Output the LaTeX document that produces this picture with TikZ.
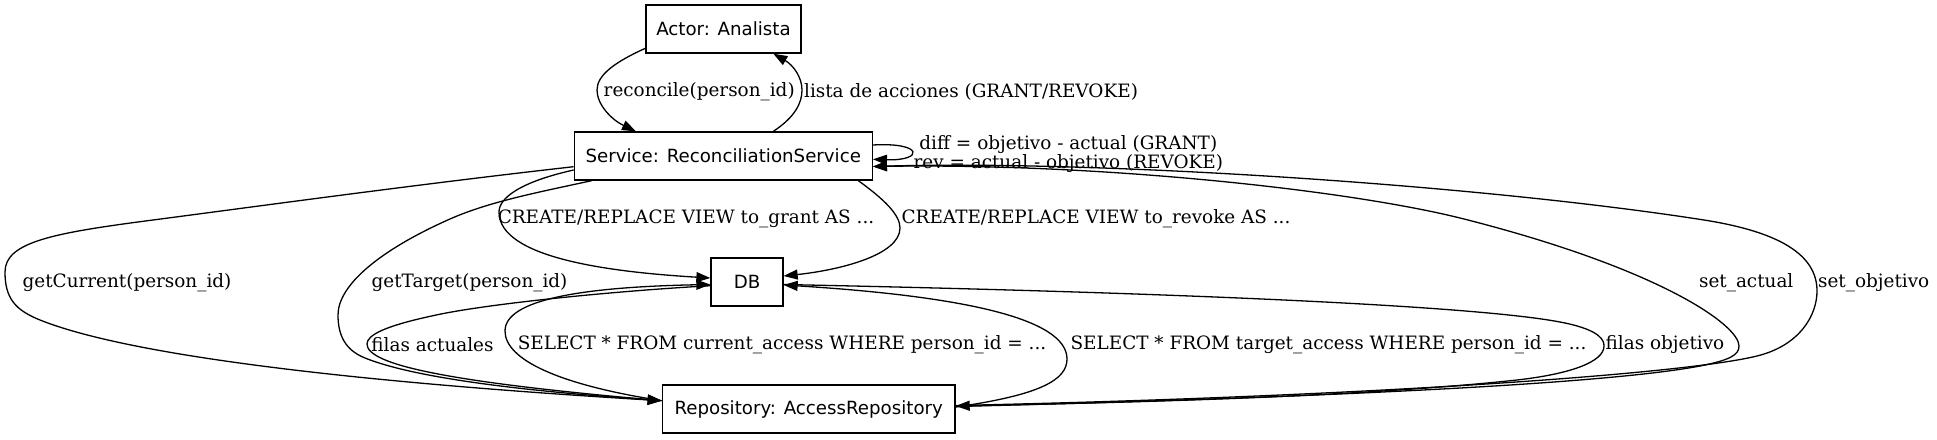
\documentclass[tikz,border=0pt]{standalone}
\usepackage{fontspec}
\setmainfont{DejaVu Serif}
\newfontfamily\nodefont{DejaVu Sans}
\newfontfamily\edgefont{DejaVu Serif}
\usetikzlibrary{arrows.meta}
\begin{document}
\begin{tikzpicture}[x=1pt,y=-1pt,
  box/.style={draw, line width=1.3pt, minimum height=48pt, inner sep=0pt,
    font=\nodefont\fontsize{18.2}{22}\selectfont},
  lbl/.style={inner sep=0pt, font=\edgefont\fontsize{18.4}{22}\selectfont},
  conn/.style={line width=1.3pt, -{Triangle[length=14pt,width=10pt]}},
]
\useasboundingbox (0,0) rectangle (1937,439);
\fill[white] (0,0) rectangle (1937,439);

% nodes
\node[box, minimum width=155pt] (actor) at (723.5,29) {Actor: Analista};
\node[box, minimum width=298pt] (svc) at (723.3,156) {Service: ReconciliationService};
\node[box, minimum width=72pt] (db) at (747,282) {DB};
\node[box, minimum width=292.7pt] (repo) at (808.7,409) {Repository: AccessRepository};

% Actor -> Service (reconcile)
\draw[conn] ([yshift=-19.3pt]actor.west) .. controls (615,62) and (597,75) .. (597,90)
  .. controls (597,105) and (612,120) .. ([xshift=-87.3pt]svc.north);
% Service -> Actor (lista de acciones)
\draw[conn] ([xshift=50pt]svc.north) .. controls (795,117) and (802,103) .. (802,90)
  .. controls (802,77) and (793,65) .. ([xshift=49.8pt]actor.south);
% self loop
\draw[conn] ([yshift=11pt]svc.east) .. controls (924,142) and (924,161) .. ([yshift=-3.3pt]svc.east);

% Service -> DB (to_grant)
\draw[conn] ([yshift=-14pt]svc.west) .. controls (520,182) and (499,198) .. (499,212)
  .. controls (499,258) and (610,272) .. ([yshift=4pt]db.west);
% Service -> DB (to_revoke)
\draw[conn] ([xshift=135pt]svc.south) .. controls (885,200) and (900,215) .. (900,228)
  .. controls (900,255) and (840,270) .. ([yshift=6pt]db.east);

% Service -> Repository (getCurrent)
\draw[conn] ([yshift=-10.7pt]svc.west) .. controls (420,184) and (260,206) .. (153,220)
  .. controls (53,233) and (5,242) .. (5,272)
  .. controls (5,298) and (15,310) .. (40,320)
  .. controls (150,364) and (450,388) .. ([yshift=8.3pt]repo.west);
% Service -> Repository (getTarget)
\draw[conn] ([xshift=-131.6pt]svc.south) .. controls (540,192) and (490,201.3) .. (450,219)
  .. controls (380,250) and (338,285) .. (338,315)
  .. controls (338,335) and (345,350) .. (365,358)
  .. controls (420,380) and (540,392) .. ([yshift=8.3pt]repo.west);

% DB -> Repository (filas actuales)
\draw[conn] ([yshift=-3.7pt]db.west) .. controls (600,292) and (480,305) .. (433,315.7)
  .. controls (385,326) and (367,335) .. (367,344)
  .. controls (367,365) and (450,382) .. ([yshift=8.3pt]repo.west);
% Repository -> DB (SELECT current)
\draw[conn] ([yshift=8.3pt]repo.west) .. controls (560,385) and (505,360) .. (505,331)
  .. controls (505,300) and (580,287) .. ([yshift=-2.5pt]db.west);

% Repository -> DB (SELECT target)
\draw[conn] ([yshift=2pt]repo.east) .. controls (1040,395) and (1067,380) .. (1067,359)
  .. controls (1067,318) and (960,296) .. ([yshift=-3pt]db.east);
% DB -> Repository (filas objetivo)
\draw[conn] ([yshift=-2.5pt]db.east) .. controls (1150,292) and (1480,305) .. (1565,323)
  .. controls (1600,330.4) and (1604,340) .. (1604,346)
  .. controls (1604,362) and (1570,374) .. (1517,380)
  .. controls (1350,398) and (1100,403) .. ([yshift=3pt]repo.east);

% Repository -> Service (set_actual)
\draw[conn] ([yshift=2.5pt]repo.east) .. controls (1300,398) and (1600,385) .. (1700,366)
  .. controls (1730,360) and (1739,355) .. (1739,346)
  .. controls (1739,325) and (1660,268.8) .. (1464,219)
  .. controls (1350,190) and (1100,163) .. ([yshift=-10.5pt]svc.east);
% Repository -> Service (set_objetivo)
\draw[conn] ([yshift=3.5pt]repo.east) .. controls (1350,397) and (1680,375) .. (1757,356)
  .. controls (1800,345.4) and (1817,315) .. (1817,291)
  .. controls (1817,255) and (1780,232) .. (1704,220)
  .. controls (1480,185) and (1100,160) .. ([yshift=-10.5pt]svc.east);

% labels
\node[lbl] (l1) at (699.2,91.7) {reconcile(person\_id)};
\node[lbl] (l2) at (971,91.7) {lista de acciones (GRANT/REVOKE)};
\node[lbl] (l3) at (1068.3,145) {diff = objetivo - actual (GRANT)};
\node[lbl] (l4) at (1068.3,163.3) {rev = actual - objetivo (REVOKE)};
\node[lbl] (l5) at (686,219) {CREATE/REPLACE VIEW to\_grant AS ...};
\node[lbl] (l6) at (1096,219) {CREATE/REPLACE VIEW to\_revoke AS ...};
\node[lbl] (l7) at (127,282.3) {getCurrent(person\_id)};
\node[lbl] (l8) at (469.5,282.3) {getTarget(person\_id)};
\node[lbl] (l9) at (1746.2,282.3) {set\_actual};
\node[lbl] (l10) at (1873.7,282.3) {set\_objetivo};
\node[lbl] (l11) at (432.5,345) {filas actuales};
\node[lbl] (l12) at (782,345) {SELECT * FROM current\_access WHERE person\_id = ...};
\node[lbl] (l13) at (1328.5,345) {SELECT * FROM target\_access WHERE person\_id = ...};
\node[lbl] (l14) at (1665,345) {filas objetivo};
\end{tikzpicture}
\end{document}
